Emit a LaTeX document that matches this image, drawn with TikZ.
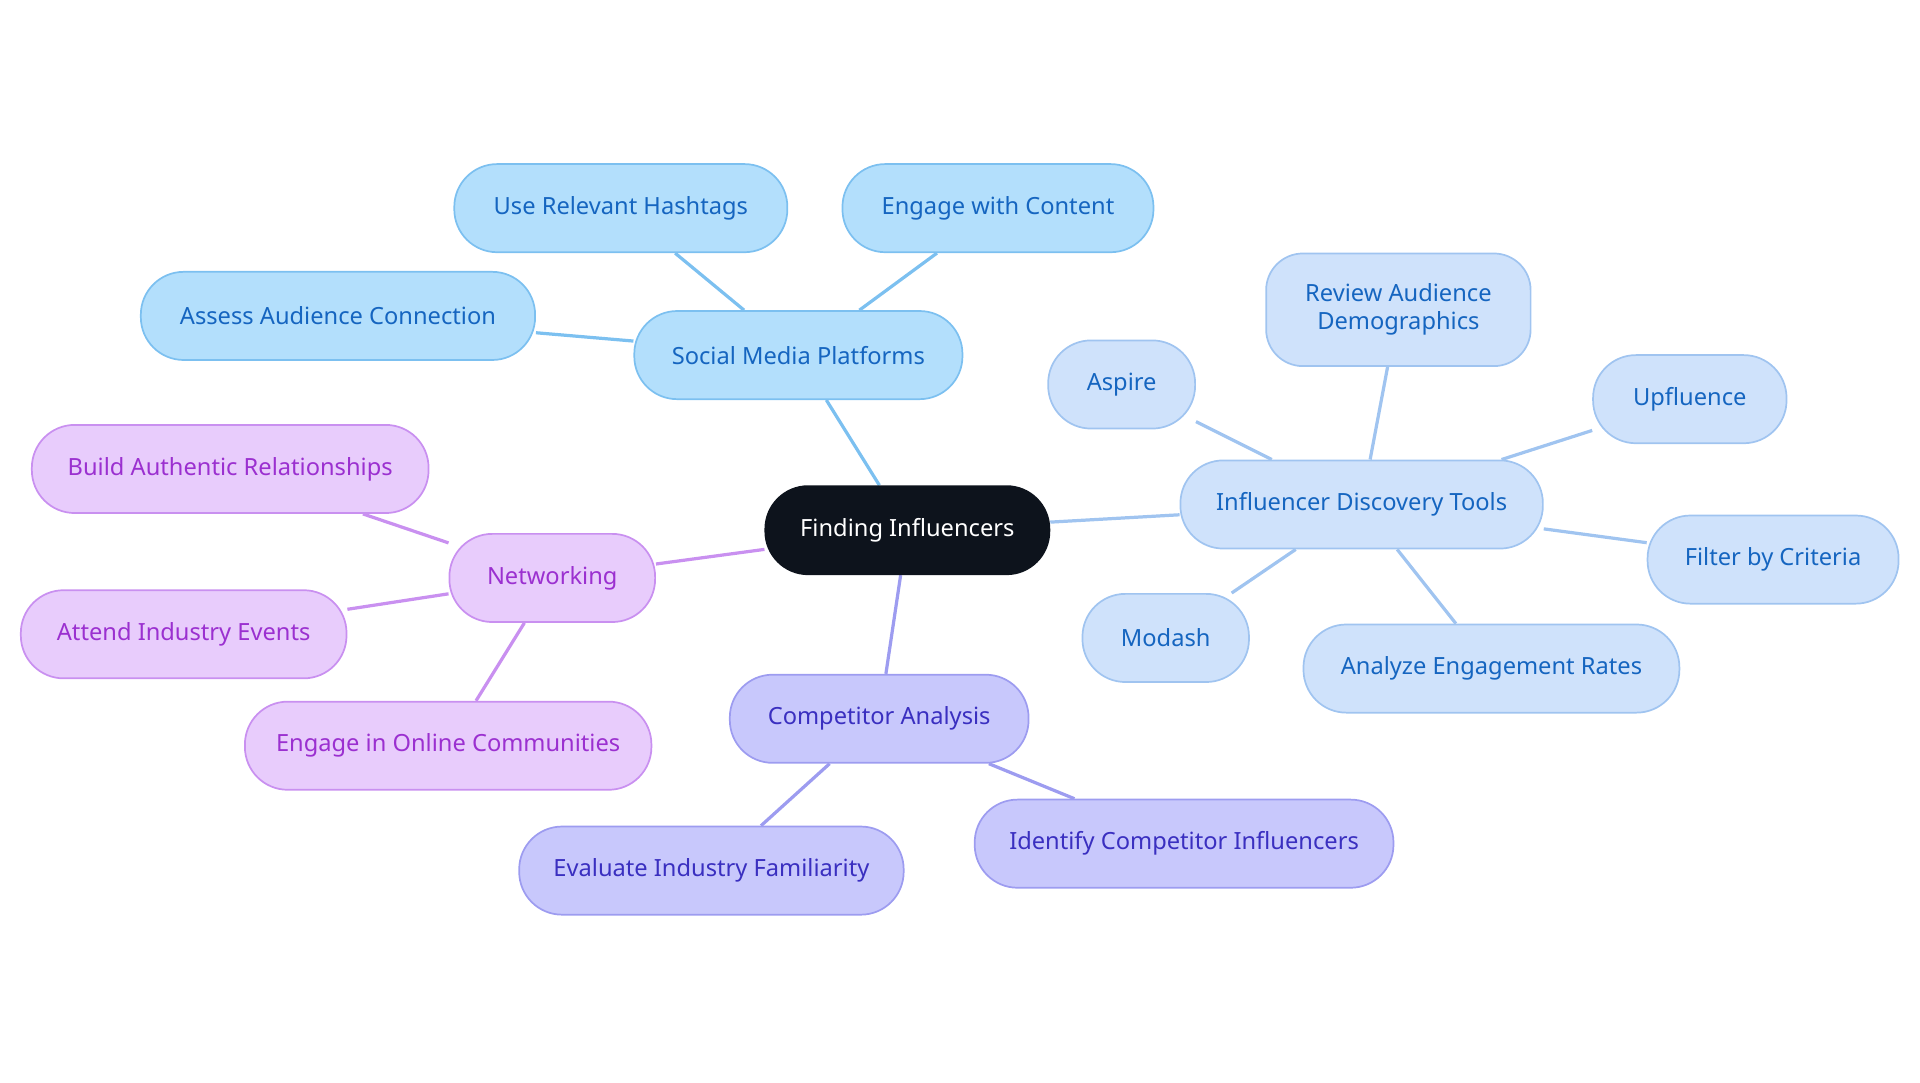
\documentclass[tikz,border=0pt]{standalone}
\usepackage{fontspec}
\setmainfont{Noto Sans}
\usetikzlibrary{backgrounds}
\definecolor{RootFill}{HTML}{0D131C}
\definecolor{SocFill}{HTML}{B3DFFC}\definecolor{SocLine}{HTML}{7CC0F0}\definecolor{SocText}{HTML}{1565C0}
\definecolor{ToolFill}{HTML}{CFE2FB}\definecolor{ToolLine}{HTML}{A0C4F0}
\definecolor{NetFill}{HTML}{E8CCFC}\definecolor{NetLine}{HTML}{C990F0}\definecolor{NetText}{HTML}{9B30D0}
\definecolor{CompFill}{HTML}{C8C8FC}\definecolor{CompLine}{HTML}{9D9CF0}\definecolor{CompText}{HTML}{3A2FC0}
\begin{document}
\begin{tikzpicture}[x=0.02cm, y=-0.02cm,
  link/.style={line width=1.5pt},
  pill/.style={rounded corners=0.7cm, minimum height=1.44cm, font=\fontsize{11}{13}\selectfont, inner sep=0pt, align=center, line width=0.8pt},
  root/.style={pill, fill=RootFill, draw=RootFill, text=white},
  social/.style={pill, fill=SocFill, draw=SocLine, text=SocText},
  tool/.style={pill, fill=ToolFill, draw=ToolLine, text=SocText},
  net/.style={pill, fill=NetFill, draw=NetLine, text=NetText},
  comp/.style={pill, fill=CompFill, draw=CompLine, text=CompText}]
\useasboundingbox (0,0) rectangle (1568,884);

\node[root, minimum width=232*0.02cm] (root) at (741,433) {Finding Influencers};

\node[social, minimum width=268*0.02cm] (SMP) at (652,290) {Social Media Platforms};
\node[social, minimum width=272*0.02cm] (SMP1) at (507,170) {Use Relevant Hashtags};
\node[social, minimum width=254*0.02cm] (SMP2) at (815,170) {Engage with Content};
\node[social, minimum width=322*0.02cm] (SMP3) at (276,258) {Assess Audience Connection};

\node[tool, minimum width=296*0.02cm] (IDT) at (1112,412) {Influencer Discovery Tools};
\node[tool, minimum width=120*0.02cm] (IDT1) at (916,314) {Aspire};
\node[tool, minimum width=216*0.02cm, minimum height=1.84cm, rounded corners=0.6cm] (IDT2) at (1142,253) {Review Audience\\Demographics};
\node[tool, minimum width=158*0.02cm] (IDT3) at (1380,326) {Upfluence};
\node[tool, minimum width=205*0.02cm] (IDT4) at (1448,457) {Filter by Criteria};
\node[tool, minimum width=307*0.02cm] (IDT5) at (1218,546) {Analyze Engagement Rates};
\node[tool, minimum width=136*0.02cm] (IDT6) at (952,521) {Modash};

\node[net, minimum width=168*0.02cm] (NET) at (451,472) {Networking};
\node[net, minimum width=324*0.02cm] (NET1) at (188,383) {Build Authentic Relationships};
\node[net, minimum width=266*0.02cm] (NET2) at (150,518) {Attend Industry Events};
\node[net, minimum width=332*0.02cm] (NET3) at (366,609) {Engage in Online Communities};

\node[comp, minimum width=244*0.02cm] (CA) at (718,587) {Competitor Analysis};
\node[comp, minimum width=314*0.02cm] (CA1) at (581,711) {Evaluate Industry Familiarity};
\node[comp, minimum width=342*0.02cm] (CA2) at (967,689) {Identify Competitor Influencers};

\begin{scope}[on background layer]
\foreach \from/\to in {root/SMP, SMP/SMP1, SMP/SMP2, SMP/SMP3}
  \draw[link, SocLine] (\from) -- (\to);
\foreach \from/\to in {root/IDT, IDT/IDT1, IDT/IDT2, IDT/IDT3, IDT/IDT4, IDT/IDT5, IDT/IDT6}
  \draw[link, ToolLine] (\from) -- (\to);
\foreach \from/\to in {root/NET, NET/NET1, NET/NET2, NET/NET3}
  \draw[link, NetLine] (\from) -- (\to);
\foreach \from/\to in {root/CA, CA/CA1, CA/CA2}
  \draw[link, CompLine] (\from) -- (\to);
\end{scope}
\end{tikzpicture}
\end{document}
